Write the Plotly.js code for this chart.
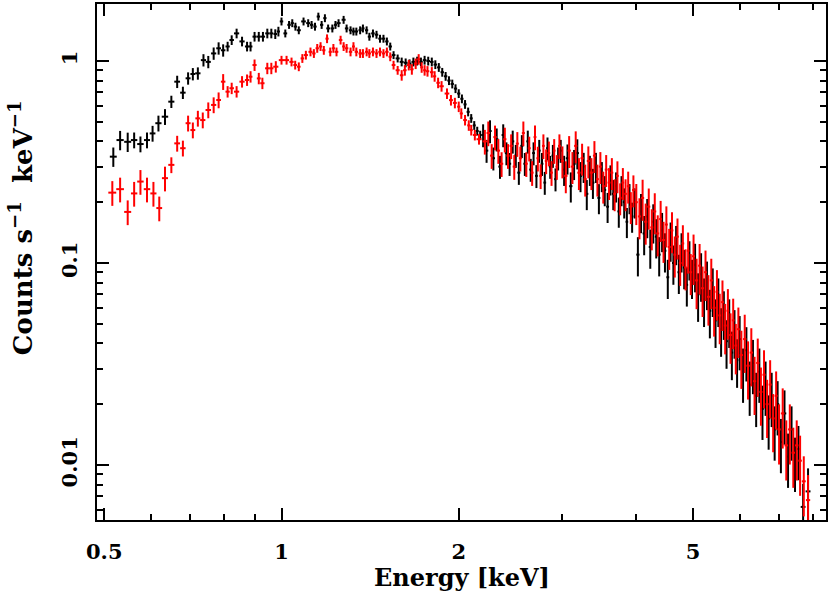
<!DOCTYPE html>
<html>
<head>
<meta charset="utf-8">
<script src="https://cdn.plot.ly/plotly-3.0.1.min.js"></script>
<style>
  html, body { margin: 0; padding: 0; background: #fff; }
  #spectrum { width: 830px; height: 592px; }
</style>
</head>
<body>
<div id="spectrum"></div>
<script>
// Energy bins (keV) and count rates (counts/s/keV)
const blackE = [
  0.518, 0.532, 0.548, 0.562, 0.576, 0.591, 0.604, 0.618, 0.634, 0.650,
  0.665, 0.680, 0.694, 0.707, 0.721, 0.737, 0.751, 0.767, 0.782, 0.796,
  0.810, 0.823, 0.839, 0.857, 0.874, 0.886, 0.900, 0.915, 0.930, 0.946,
  0.961, 0.976, 0.988, 1.000, 1.015, 1.030, 1.043, 1.056, 1.070, 1.090,
  1.110, 1.125, 1.140, 1.155, 1.170, 1.185, 1.200, 1.220, 1.235, 1.250,
  1.275, 1.290, 1.310, 1.325, 1.340, 1.360, 1.375, 1.395, 1.410, 1.430,
  1.450, 1.470, 1.490, 1.510, 1.530, 1.550, 1.575, 1.600, 1.625, 1.650,
  1.675, 1.700, 1.725, 1.750, 1.775, 1.800, 1.825, 1.850, 1.875, 1.900,
  1.925, 1.950, 1.975, 2.000, 2.025, 2.050, 2.075, 2.100, 2.125, 2.150,
  2.175,
  2.20, 2.23, 2.26, 2.29, 2.32, 2.35, 2.38, 2.41, 2.44, 2.47,
  2.50, 2.53, 2.56, 2.59, 2.62, 2.65, 2.68, 2.71, 2.74, 2.77,
  2.80, 2.83, 2.86, 2.89, 2.92, 2.95, 2.98, 3.02, 3.06, 3.10,
  3.14, 3.18, 3.22, 3.26, 3.30, 3.34, 3.38, 3.42, 3.46, 3.50,
  3.54, 3.58, 3.62, 3.66, 3.70, 3.74, 3.78, 3.82, 3.86, 3.90,
  3.94, 3.98, 4.03, 4.08, 4.13, 4.18, 4.23, 4.28, 4.33, 4.38,
  4.43, 4.48, 4.53, 4.58, 4.63, 4.68, 4.73, 4.78, 4.83, 4.88,
  4.93, 4.98, 5.04, 5.10, 5.16, 5.22, 5.28, 5.34, 5.40, 5.46,
  5.52, 5.58, 5.64, 5.70, 5.76, 5.82, 5.88, 5.94, 6.00, 6.08,
  6.16, 6.24, 6.32, 6.40, 6.48, 6.56, 6.64, 6.72, 6.80, 6.88,
  6.96, 7.05, 7.15, 7.25, 7.35, 7.45, 7.55, 7.69, 7.84
];
const blackC = [
  0.336, 0.406, 0.398, 0.406, 0.388, 0.406, 0.438, 0.492, 0.530, 0.629,
  0.790, 0.697, 0.821, 0.862, 0.869, 1.01, 0.99, 1.09, 1.156, 1.13,
  1.18, 1.27, 1.37, 1.25, 1.18, 1.18, 1.32, 1.32, 1.32, 1.37,
  1.37, 1.36, 1.40, 1.57, 1.37, 1.51, 1.54, 1.48, 1.42, 1.57,
  1.54, 1.51, 1.48, 1.66, 1.51, 1.63, 1.45, 1.45, 1.51, 1.54,
  1.60, 1.45, 1.42, 1.40, 1.40, 1.42, 1.45, 1.42, 1.32, 1.37,
  1.35, 1.29, 1.29, 1.25, 1.18, 1.07, 1.03, 0.99, 0.98, 0.97,
  0.99, 1.00, 0.99, 1.01, 1.00, 0.99, 0.96, 0.93, 0.88, 0.84,
  0.80, 0.77, 0.73, 0.69, 0.65, 0.61, 0.56, 0.52, 0.48, 0.45,
  0.43,
  0.43, 0.36, 0.45, 0.33, 0.41, 0.30, 0.43, 0.35, 0.31, 0.40,
  0.34, 0.28, 0.38, 0.31, 0.40, 0.29, 0.35, 0.27, 0.36, 0.31,
  0.25, 0.37, 0.30, 0.34, 0.26, 0.33, 0.36, 0.29, 0.33, 0.24,
  0.31, 0.35, 0.27, 0.30, 0.22, 0.29, 0.25, 0.30, 0.21, 0.27,
  0.23, 0.19, 0.26, 0.22, 0.24, 0.18, 0.23, 0.20, 0.16, 0.21,
  0.17, 0.20, 0.11, 0.18, 0.14, 0.17, 0.12, 0.16, 0.135, 0.11,
  0.145, 0.115, 0.085, 0.13, 0.10, 0.125, 0.09, 0.115, 0.095, 0.078,
  0.105, 0.085, 0.098, 0.070, 0.088, 0.066, 0.080, 0.058, 0.074, 0.052,
  0.066, 0.047, 0.057, 0.041, 0.052, 0.036, 0.046, 0.033, 0.042, 0.029,
  0.037, 0.025, 0.032, 0.022, 0.029, 0.019, 0.025, 0.017, 0.022, 0.015,
  0.020, 0.013, 0.018, 0.011, 0.015, 0.0105, 0.012, 0.0062, 0.0074
];

const redE = [
  0.516, 0.532, 0.548, 0.562, 0.576, 0.591, 0.606, 0.620, 0.634, 0.650,
  0.665, 0.680, 0.694, 0.707, 0.721, 0.735, 0.751, 0.767, 0.782, 0.796,
  0.810, 0.823, 0.839, 0.857, 0.874, 0.886, 0.900, 0.915, 0.928, 0.946,
  0.961, 0.978, 1.000, 1.020, 1.040, 1.055, 1.070, 1.085, 1.100, 1.120,
  1.135, 1.150, 1.165, 1.180, 1.195, 1.210, 1.225, 1.240, 1.260, 1.275,
  1.290, 1.310, 1.325, 1.340, 1.360, 1.375, 1.395, 1.410, 1.430, 1.450,
  1.470, 1.490, 1.510, 1.530, 1.550, 1.575, 1.600, 1.620, 1.645, 1.665,
  1.690, 1.710, 1.730, 1.750, 1.770, 1.800, 1.820, 1.845, 1.870, 1.910,
  1.940, 1.970, 2.000, 2.020, 2.050, 2.080, 2.100, 2.130, 2.165,
  2.215, 2.245, 2.275, 2.305, 2.335, 2.365, 2.395, 2.425, 2.455, 2.485,
  2.515, 2.545, 2.575, 2.605, 2.635, 2.665, 2.695, 2.725, 2.755, 2.785,
  2.815, 2.845, 2.875, 2.905, 2.935, 2.965, 3.00, 3.04, 3.08, 3.12,
  3.16, 3.20, 3.24, 3.28, 3.32, 3.36, 3.40, 3.44, 3.48, 3.52,
  3.56, 3.60, 3.64, 3.68, 3.72, 3.76, 3.80, 3.84, 3.88, 3.92,
  3.96, 4.005, 4.055, 4.105, 4.155, 4.205, 4.255, 4.305, 4.355, 4.405,
  4.455, 4.505, 4.555, 4.605, 4.655, 4.705, 4.755, 4.805, 4.855, 4.905,
  4.955, 5.01, 5.07, 5.13, 5.19, 5.25, 5.31, 5.37, 5.43, 5.49,
  5.55, 5.61, 5.67, 5.73, 5.79, 5.85, 5.91, 5.97, 6.04, 6.12,
  6.20, 6.28, 6.36, 6.44, 6.52, 6.60, 6.68, 6.76, 6.84, 6.92,
  7.00, 7.10, 7.20, 7.30, 7.40, 7.50, 7.60, 7.71, 7.84
];
const redC = [
  0.223, 0.232, 0.179, 0.221, 0.253, 0.232, 0.221, 0.187, 0.263, 0.306,
  0.391, 0.370, 0.492, 0.455, 0.520, 0.510, 0.572, 0.606, 0.641, 0.790,
  0.705, 0.733, 0.705, 0.790, 0.805, 0.836, 0.955, 0.82, 0.776, 0.92,
  0.92, 0.937, 1.01, 1.01, 0.99, 0.955, 0.937, 1.03, 1.07, 1.11,
  1.09, 1.156, 1.18, 1.13, 1.29, 1.11, 1.156, 1.11, 1.27, 1.18,
  1.156, 1.11, 1.18, 1.11, 1.09, 1.09, 1.11, 1.09, 1.11, 1.09,
  1.11, 1.09, 1.11, 1.05, 0.955, 0.90, 0.85, 0.90, 0.955, 0.91,
  0.97, 1.02, 0.93, 0.90, 0.89, 0.88, 0.84, 0.78, 0.75, 0.69,
  0.64, 0.62, 0.594, 0.55, 0.51, 0.48, 0.455, 0.43, 0.41,
  0.40, 0.44, 0.34, 0.42, 0.36, 0.31, 0.41, 0.34, 0.38, 0.30,
  0.39, 0.33, 0.44, 0.31, 0.37, 0.28, 0.42, 0.33, 0.27, 0.38,
  0.32, 0.35, 0.28, 0.36, 0.30, 0.38, 0.32, 0.27, 0.36, 0.30,
  0.38, 0.28, 0.33, 0.26, 0.32, 0.28, 0.34, 0.26, 0.30, 0.24,
  0.29, 0.25, 0.28, 0.22, 0.27, 0.21, 0.25, 0.22, 0.24, 0.19,
  0.23, 0.20, 0.17, 0.21, 0.16, 0.19, 0.15, 0.18, 0.14, 0.165,
  0.13, 0.155, 0.12, 0.145, 0.11, 0.135, 0.10, 0.125, 0.095, 0.115,
  0.090, 0.108, 0.082, 0.097, 0.075, 0.090, 0.068, 0.082, 0.060, 0.072,
  0.055, 0.064, 0.049, 0.058, 0.044, 0.052, 0.039, 0.047, 0.035, 0.042,
  0.031, 0.036, 0.026, 0.032, 0.023, 0.028, 0.020, 0.025, 0.017, 0.022,
  0.015, 0.018, 0.0125, 0.015, 0.0115, 0.0125, 0.0105, 0.0083, 0.0067
];

// relative 1-sigma error by energy band: [upper edge keV, black, red]
const errBands = [
  [0.56, 0.11, 0.14],
  [0.65, 0.09, 0.14],
  [0.80, 0.07, 0.09],
  [1.00, 0.055, 0.065],
  [1.60, 0.045, 0.05],
  [2.20, 0.05, 0.06],
  [3.00, 0.13, 0.14],
  [4.00, 0.17, 0.18],
  [5.00, 0.22, 0.23],
  [6.00, 0.27, 0.28],
  [7.00, 0.30, 0.32],
  [99, 0.30, 0.33]
];

function relErr(e, col) {
  for (const b of errBands) {
    if (e < b[0]) return b[col];
  }
  return errBands[errBands.length - 1][col];
}

// half bin width from the neighbouring bin centres
function halfWidths(e) {
  return e.map((v, i) => {
    const lo = i > 0 ? e[i - 1] : v - (e[1] - e[0]);
    const hi = i < e.length - 1 ? e[i + 1] : v + (v - e[i - 1]);
    return (hi - lo) / 4;
  });
}

function makeTrace(e, c, col, color) {
  return {
    x: e,
    y: c,
    type: 'scatter',
    mode: 'markers',
    marker: { size: 1, color: color },
    error_x: { type: 'data', array: halfWidths(e), color: color, thickness: 2, width: 0 },
    error_y: { type: 'data', array: c.map((v, i) => v * relErr(e[i], col)), color: color, thickness: 2, width: 0 },
    hoverinfo: 'skip',
    showlegend: false
  };
}

const traceBlack = makeTrace(blackE, blackC, 1, '#000000');
const traceRed = makeTrace(redE, redC, 2, '#ff0000');

// minor tick positions
const yMinor = [];
[0.001, 0.01, 0.1, 1].forEach(d => {
  for (let k = 2; k <= 9; k++) yMinor.push(d * k);
});

const tickFont = { family: 'DejaVu Serif, serif', size: 21, color: '#000', weight: 'bold' };
const xTitleFont = { family: 'DejaVu Serif, serif', size: 24, color: '#000', weight: 'bold' };
const yTitleFont = { family: 'DejaVu Serif, serif', size: 26, color: '#000', weight: 'bold' };

const layout = {
  width: 830,
  height: 592,
  margin: { l: 97, r: 4, t: 4, b: 72 },
  paper_bgcolor: '#fff',
  plot_bgcolor: '#fff',
  font: tickFont,
  xaxis: {
    type: 'log',
    range: [Math.log10(0.486), Math.log10(8.41)],
    tickmode: 'array',
    tickvals: [0.5, 1, 2, 5],
    ticktext: ['0.5', '1', '2', '5'],
    ticks: 'inside',
    ticklen: 12,
    tickwidth: 2,
    tickcolor: '#000',
    ticklabelstandoff: 12,
    minor: {
      tickmode: 'array',
      tickvals: [0.6, 0.7, 0.8, 0.9, 3, 4, 6, 7, 8],
      ticks: 'inside',
      ticklen: 6,
      tickwidth: 2,
      tickcolor: '#000'
    },
    showline: true,
    linewidth: 2,
    linecolor: '#000',
    mirror: 'allticks',
    showgrid: false,
    zeroline: false,
    tickfont: tickFont
  },
  yaxis: {
    type: 'log',
    range: [Math.log10(0.00534), Math.log10(1.915)],
    tickmode: 'array',
    tickvals: [0.01, 0.1, 1],
    ticktext: ['0.01', '0.1', '1'],
    tickangle: -90,
    ticks: 'inside',
    ticklen: 12,
    tickwidth: 2,
    tickcolor: '#000',
    ticklabelstandoff: 10,
    minor: {
      tickmode: 'array',
      tickvals: yMinor,
      ticks: 'inside',
      ticklen: 6,
      tickwidth: 2,
      tickcolor: '#000'
    },
    showline: true,
    linewidth: 2,
    linecolor: '#000',
    mirror: 'allticks',
    showgrid: false,
    zeroline: false,
    tickfont: tickFont
  },
  annotations: [
    {
      text: 'Energy [keV]',
      xref: 'paper', yref: 'paper',
      x: 0.5, y: -0.112,
      xanchor: 'center', yanchor: 'middle',
      showarrow: false,
      font: xTitleFont
    },
    {
      text: 'Counts s<sup>\u22121</sup>\u00a0\u00a0keV<sup>\u22121</sup>',
      xref: 'paper', yref: 'paper',
      x: -0.104, y: 0.566,
      xanchor: 'center', yanchor: 'middle',
      textangle: -90,
      showarrow: false,
      font: yTitleFont
    }
  ]
};

Plotly.newPlot('spectrum', [traceBlack, traceRed], layout, { staticPlot: true, displayModeBar: false });
</script>
</body>
</html>
